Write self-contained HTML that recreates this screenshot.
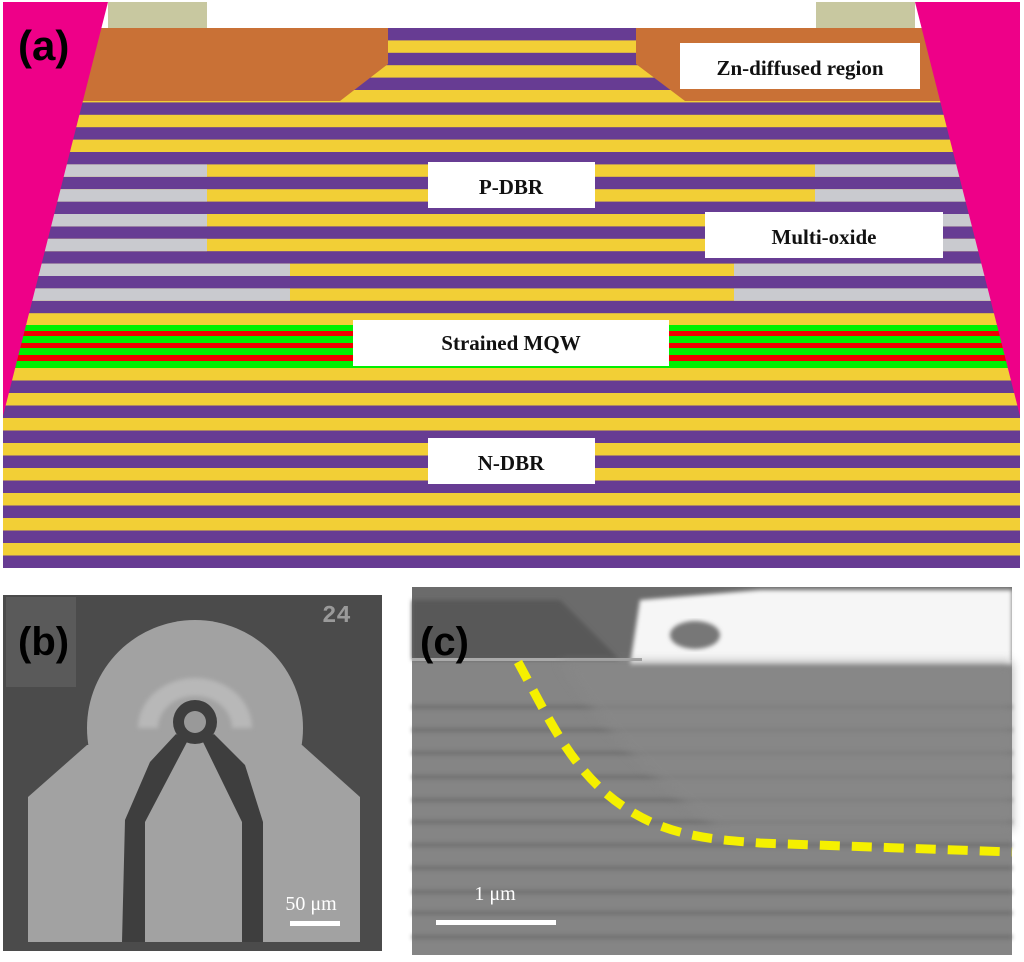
<!DOCTYPE html>
<html><head><meta charset="utf-8"><style>
html,body{margin:0;padding:0;background:#fff;}
svg{display:block;}
</style></head><body>
<svg width="1024" height="962" viewBox="0 0 1024 962" xmlns="http://www.w3.org/2000/svg">
<defs>
<pattern id="pu" x="0" y="28" width="10" height="24.8" patternUnits="userSpaceOnUse">
<rect width="10" height="12.4" fill="#673c93"/><rect y="12.4" width="10" height="12.4" fill="#f2cf36"/>
</pattern>
<pattern id="pl" x="0" y="368" width="10" height="25" patternUnits="userSpaceOnUse">
<rect width="10" height="12.5" fill="#f2cf36"/><rect y="12.5" width="10" height="12.5" fill="#673c93"/>
</pattern>
<filter id="bl"><feGaussianBlur stdDeviation="2"/></filter>
<filter id="bl4"><feGaussianBlur stdDeviation="5"/></filter>
</defs>
<rect width="1024" height="962" fill="#fff"/>
<rect x="3" y="28" width="1017" height="297.6" fill="url(#pu)"/>
<rect x="3" y="368" width="1017" height="200" fill="url(#pl)"/>
<g fill="#c9cacf">
<rect x="0" y="164.4" width="207" height="12.4"/><rect x="0" y="189.2" width="207" height="12.4"/>
<rect x="0" y="214" width="207" height="12.4"/><rect x="0" y="238.8" width="207" height="12.4"/>
<rect x="0" y="263.6" width="290" height="12.4"/><rect x="0" y="288.4" width="290" height="12.4"/>
<rect x="815" y="164.4" width="209" height="12.4"/><rect x="815" y="189.2" width="209" height="12.4"/>
<rect x="900" y="214" width="124" height="12.4"/><rect x="900" y="238.8" width="124" height="12.4"/>
<rect x="734" y="263.6" width="290" height="12.4"/><rect x="734" y="288.4" width="290" height="12.4"/>
</g>
<rect x="0" y="325" width="1024" height="43" fill="#00f000"/>
<g fill="#f00000"><rect x="0" y="331" width="1024" height="5"/><rect x="0" y="343" width="1024" height="5"/><rect x="0" y="355" width="1024" height="6"/></g>
<polygon points="0,28 388,28 388,64 340,101 0,101" fill="#c97136"/>
<polygon points="636,28 1024,28 1024,101 685,101 636,64" fill="#c97136"/>
<rect x="108" y="2" width="99" height="26" fill="#c8c8a0"/>
<rect x="816" y="2" width="99" height="26" fill="#c8c8a0"/>
<polygon points="3,2 108,2 3,416" fill="#ee0088"/>
<polygon points="915,2 1020,2 1020,416" fill="#ee0088"/>
<rect x="0" y="0" width="3" height="570" fill="#fff"/>
<rect x="1020" y="0" width="4" height="570" fill="#fff"/>
<text x="18" y="60" font-family="Liberation Sans, sans-serif" font-weight="bold" font-size="42">(a)</text>
<g font-family="Liberation Serif, serif" font-weight="bold" font-size="21" text-anchor="middle" fill="#111">
<rect x="680" y="43" width="240" height="46" fill="#fff"/><text x="800" y="75">Zn-diffused region</text>
<rect x="428" y="162" width="167" height="46" fill="#fff"/><text x="511" y="194">P-DBR</text>
<rect x="705" y="212" width="238" height="46" fill="#fff"/><text x="824" y="244">Multi-oxide</text>
<rect x="353" y="320" width="316" height="46" fill="#fff"/><text x="511" y="350">Strained MQW</text>
<rect x="428" y="438" width="167" height="46" fill="#fff"/><text x="511" y="470">N-DBR</text>
</g>
<!-- panel b -->
<rect x="3" y="595" width="379" height="356" fill="#4b4b4b"/>
<rect x="6" y="597" width="70" height="90" fill="#5a5a5a"/>
<text x="322" y="622" font-family="Liberation Mono, monospace" font-weight="bold" font-size="24" fill="#9a9a9a">24</text>
<g fill="#a2a2a2">
<circle cx="195" cy="728" r="108"/>
<polygon points="87,745 28,797 28,942 360,942 360,797 302,745"/>
</g>
<path d="M138,728 A57,50 0 0 1 252,728 L232,728 A37,32 0 0 0 158,728 Z" fill="#b8b8b8" filter="url(#bl)"/>
<g fill="#3e3e3e">
<circle cx="195" cy="722" r="22"/>
<polygon points="122,942 145,942 145,822 187,742 176,734 150,762 125,820"/>
<polygon points="242,942 263,942 263,822 245,765 214,734 203,742 242,822"/>
</g>
<circle cx="195" cy="722" r="11" fill="#999"/>
<text x="18" y="655" font-family="Liberation Sans, sans-serif" font-weight="bold" font-size="40" fill="#000">(b)</text>
<text x="311" y="910" font-family="Liberation Serif, serif" font-size="20" fill="#fff" text-anchor="middle">50 μm</text>
<rect x="290" y="921" width="50" height="5" fill="#fff"/>
<!-- panel c -->
<rect x="412" y="587" width="600" height="368" fill="#858585"/>
<polygon points="412,587 1012,587 1012,660 412,660" fill="#6b6b6b"/>
<polygon points="412,600 560,600 620,660 412,660" fill="#585858" filter="url(#bl)"/>
<polygon points="640,600 760,590 1012,590 1012,665 630,665" fill="#f6f6f6" filter="url(#bl)"/>
<ellipse cx="695" cy="635" rx="25" ry="14" fill="#777" filter="url(#bl)"/>
<rect x="412" y="658" width="230" height="3" fill="#aaa"/>
<g stroke="#6a6a6a" stroke-width="4" filter="url(#bl)" opacity="0.8">
<line x1="412" y1="707" x2="1012" y2="707"/><line x1="412" y1="730" x2="1012" y2="730"/>
<line x1="412" y1="753" x2="1012" y2="753"/><line x1="412" y1="777" x2="1012" y2="777"/>
<line x1="412" y1="800" x2="1012" y2="800"/><line x1="412" y1="822" x2="1012" y2="822"/>
<line x1="412" y1="845" x2="1012" y2="845"/><line x1="412" y1="868" x2="1012" y2="868"/>
<line x1="412" y1="892" x2="1012" y2="892"/><line x1="412" y1="913" x2="1012" y2="913"/>
<line x1="412" y1="937" x2="1012" y2="937"/>
</g>
<path d="M560,662 Q620,760 720,830 L1012,830 L1012,662 Z" fill="#888" opacity="0.7" filter="url(#bl4)"/>
<path d="M518,662 C555,730 580,790 653,823 C690,838 720,840 760,843 L1012,852" fill="none" stroke="#f5f000" stroke-width="9" stroke-dasharray="20,12"/>
<text x="420" y="655" font-family="Liberation Sans, sans-serif" font-weight="bold" font-size="40" fill="#000">(c)</text>
<text x="495" y="900" font-family="Liberation Serif, serif" font-size="20" fill="#fff" text-anchor="middle">1 μm</text>
<rect x="436" y="920" width="120" height="5" fill="#fff"/>
</svg>
</body></html>
